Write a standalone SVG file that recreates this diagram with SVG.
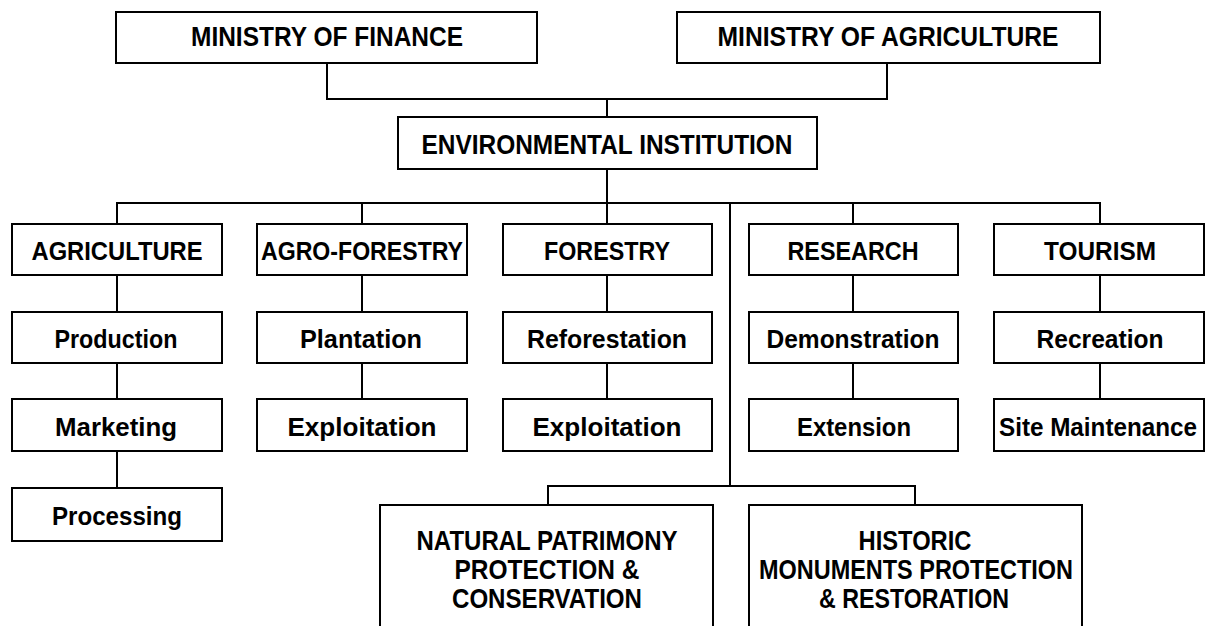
<svg xmlns="http://www.w3.org/2000/svg" width="1205" height="626" viewBox="0 0 1205 626">
<style>
.box{fill:#fff;stroke:#000;stroke-width:2}
.ln{fill:none;stroke:#000;stroke-width:2}
text{font-family:"Liberation Sans",Arial,sans-serif;font-weight:bold;fill:#000;text-anchor:middle}
.t1{font-size:27px}
.t2{font-size:26px}
.t3{font-size:28px}
</style>
<rect width="1205" height="626" fill="#fff"/>
<g id="connectors">
<path class="ln" d="M327,63V99H887V63"/>
<path class="ln" d="M607,99V117"/>
<path class="ln" d="M607,169V224"/>
<path class="ln" d="M117,224V203H1100V224"/>
<path class="ln" d="M362,203V224"/>
<path class="ln" d="M853,203V224"/>
<path class="ln" d="M730,203V486"/>
<path class="ln" d="M548,505V486H915V505"/>
<path class="ln" d="M117,275V312M117,363V399M117,451V488"/>
<path class="ln" d="M362,275V312M362,363V399"/>
<path class="ln" d="M607,275V312M607,363V399"/>
<path class="ln" d="M853,275V312M853,363V399"/>
<path class="ln" d="M1100,275V312M1100,363V399"/>
</g>
<g id="finance"><rect class="box" x="116" y="12" width="421" height="51"/><text class="t1" x="327" y="46" textLength="272" lengthAdjust="spacingAndGlyphs">MINISTRY OF FINANCE</text></g>
<g id="min-agriculture"><rect class="box" x="677" y="12" width="423" height="51"/><text class="t1" x="888" y="46" textLength="341" lengthAdjust="spacingAndGlyphs">MINISTRY OF AGRICULTURE</text></g>
<g id="env"><rect class="box" x="398" y="117" width="419" height="52"/><text class="t1" x="607" y="154" textLength="371" lengthAdjust="spacingAndGlyphs">ENVIRONMENTAL INSTITUTION</text></g>

<g id="agriculture"><rect class="box" x="12" y="224" width="210" height="51"/><text class="t2" x="117" y="260" textLength="171" lengthAdjust="spacingAndGlyphs">AGRICULTURE</text></g>
<g id="agroforestry"><rect class="box" x="257" y="224" width="210" height="51"/><text class="t2" x="362" y="260" textLength="202" lengthAdjust="spacingAndGlyphs">AGRO-FORESTRY</text></g>
<g id="forestry"><rect class="box" x="503" y="224" width="209" height="51"/><text class="t2" x="607" y="260" textLength="126" lengthAdjust="spacingAndGlyphs">FORESTRY</text></g>
<g id="research"><rect class="box" x="749" y="224" width="209" height="51"/><text class="t2" x="853" y="260" textLength="131" lengthAdjust="spacingAndGlyphs">RESEARCH</text></g>
<g id="tourism"><rect class="box" x="994" y="224" width="210" height="51"/><text class="t2" x="1100" y="260" textLength="112" lengthAdjust="spacingAndGlyphs">TOURISM</text></g>

<g id="production"><rect class="box" x="12" y="312" width="210" height="51"/><text class="t2" x="116" y="348" textLength="123" lengthAdjust="spacingAndGlyphs">Production</text></g>
<g id="plantation"><rect class="box" x="257" y="312" width="210" height="51"/><text class="t2" x="361" y="348" textLength="122" lengthAdjust="spacingAndGlyphs">Plantation</text></g>
<g id="reforestation"><rect class="box" x="503" y="312" width="209" height="51"/><text class="t2" x="607" y="348" textLength="160" lengthAdjust="spacingAndGlyphs">Reforestation</text></g>
<g id="demonstration"><rect class="box" x="749" y="312" width="209" height="51"/><text class="t2" x="853" y="348" textLength="173" lengthAdjust="spacingAndGlyphs">Demonstration</text></g>
<g id="recreation"><rect class="box" x="994" y="312" width="210" height="51"/><text class="t2" x="1100" y="348" textLength="127" lengthAdjust="spacingAndGlyphs">Recreation</text></g>

<g id="marketing"><rect class="box" x="12" y="399" width="210" height="52"/><text class="t2" x="116" y="436" textLength="122" lengthAdjust="spacingAndGlyphs">Marketing</text></g>
<g id="exploitation-agro"><rect class="box" x="257" y="399" width="210" height="52"/><text class="t2" x="362" y="436" textLength="149" lengthAdjust="spacingAndGlyphs">Exploitation</text></g>
<g id="exploitation-forestry"><rect class="box" x="503" y="399" width="209" height="52"/><text class="t2" x="607" y="436" textLength="149" lengthAdjust="spacingAndGlyphs">Exploitation</text></g>
<g id="extension"><rect class="box" x="749" y="399" width="209" height="52"/><text class="t2" x="854" y="436" textLength="114" lengthAdjust="spacingAndGlyphs">Extension</text></g>
<g id="site-maintenance"><rect class="box" x="994" y="399" width="210" height="52"/><text class="t2" x="1098" y="436" textLength="198" lengthAdjust="spacingAndGlyphs">Site Maintenance</text></g>

<g id="processing"><rect class="box" x="12" y="488" width="210" height="53"/><text class="t2" x="117" y="525" textLength="130" lengthAdjust="spacingAndGlyphs">Processing</text></g>

<g id="natural"><rect class="box" x="380" y="505" width="333" height="130"/>
<text class="t3" x="547" y="550" textLength="261" lengthAdjust="spacingAndGlyphs">NATURAL PATRIMONY</text>
<text class="t3" x="547" y="579" textLength="185" lengthAdjust="spacingAndGlyphs">PROTECTION &amp;</text>
<text class="t3" x="547" y="608" textLength="190" lengthAdjust="spacingAndGlyphs">CONSERVATION</text></g>
<g id="historic"><rect class="box" x="749" y="505" width="333" height="130"/>
<text class="t3" x="915" y="550" textLength="113" lengthAdjust="spacingAndGlyphs">HISTORIC</text>
<text class="t3" x="916" y="579" textLength="314" lengthAdjust="spacingAndGlyphs">MONUMENTS PROTECTION</text>
<text class="t3" x="914" y="608" textLength="190" lengthAdjust="spacingAndGlyphs">&amp; RESTORATION</text></g>
</svg>
